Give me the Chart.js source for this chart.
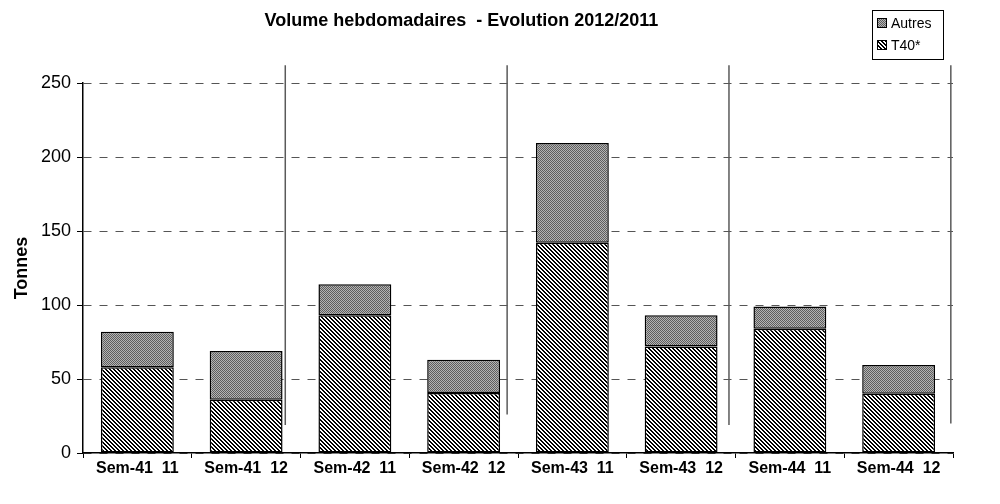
<!DOCTYPE html>
<html>
<head>
<meta charset="utf-8">
<script src="https://cdn.jsdelivr.net/npm/chart.js@4/dist/chart.umd.min.js"></script>
<style>
  html, body { margin: 0; padding: 0; background: #fff; }
  #wrap { width: 1000px; height: 504px; position: relative; }
</style>
</head>
<body>
<div id="wrap"><canvas id="graficoVolume"></canvas></div>
<script>
// Données du graphique
const semaines = ['Sem-41  11', 'Sem-41  12', 'Sem-42  11', 'Sem-42  12', 'Sem-43  11', 'Sem-43  12', 'Sem-44  11', 'Sem-44  12'];
const t40 = [58, 36, 93, 40.5, 142, 72, 84, 40];
const autres = [24, 33, 21, 22.5, 67.5, 21, 15, 19.5];
const yTicks = [0, 50, 100, 150, 200, 250];

// séparateurs verticaux entre semaines (position en index de catégorie, haut/bas en tonnes)
const sepPos = [1.36, 3.4, 5.44, 7.48];
const sepTop = [262, 262, 262, 262];
const sepBas = [19, 26, 19, 20];

// motifs de remplissage
function motifHachure() {
  const c = document.createElement('canvas');
  c.width = 4; c.height = 4;
  const ctx = c.getContext('2d');
  ctx.fillStyle = '#fff';
  ctx.fillRect(0, 0, 4, 4);
  ctx.fillStyle = '#000';
  for (let y = 0; y < 4; y++) {
    for (let x = 0; x < 4; x++) {
      const d = ((x - y) % 4 + 4) % 4;
      if (d === 0 || d === 1) ctx.fillRect(x, y, 1, 1);
    }
  }
  return ctx.createPattern(c, 'repeat');
}

function motifDamier() {
  const c = document.createElement('canvas');
  c.width = 2; c.height = 2;
  const ctx = c.getContext('2d');
  ctx.fillStyle = '#b4b4b4';
  ctx.fillRect(0, 0, 2, 2);
  ctx.fillStyle = '#5e5e5e';
  ctx.fillRect(0, 0, 1, 1);
  ctx.fillRect(1, 1, 1, 1);
  return ctx.createPattern(c, 'repeat');
}

const hachure = motifHachure();
const damier = motifDamier();
const police = '"Liberation Sans", Arial, sans-serif';

const pluginDessin = {
  id: 'dessin',
  afterDatasetsDraw(chart) {
    const ctx = chart.ctx;
    const x = chart.scales.x, y = chart.scales.y;
    ctx.save();
    ctx.strokeStyle = '#5a5a5a';
    ctx.lineWidth = 1.5;
    sepPos.forEach((p, i) => {
      const px = x.getPixelForValue(p);
      ctx.beginPath();
      ctx.moveTo(px, y.getPixelForValue(sepTop[i]));
      ctx.lineTo(px, y.getPixelForValue(sepBas[i]));
      ctx.stroke();
    });
    ctx.restore();
  },
  afterDraw(chart) {
    const ctx = chart.ctx;
    const area = chart.chartArea;
    ctx.save();
    // titre
    ctx.fillStyle = '#000';
    ctx.font = 'bold 18px ' + police;
    ctx.textAlign = 'center';
    ctx.textBaseline = 'middle';
    ctx.fillText('Volume hebdomadaires  - Evolution 2012/2011', area.left + area.width * 0.435, 21);

    // légende
    ctx.strokeStyle = '#000';
    ctx.lineWidth = 1;
    ctx.strokeRect(872.5, 10.5, 71, 49);
    const items = [chart.data.datasets[1], chart.data.datasets[0]];
    ctx.font = '14px ' + police;
    ctx.textAlign = 'left';
    items.forEach((ds, i) => {
      const cy = 23 + i * 22;
      ctx.fillStyle = ds.backgroundColor;
      ctx.fillRect(877, cy - 5, 10, 10);
      ctx.strokeRect(877.5, cy - 4.5, 9, 9);
      ctx.fillStyle = '#000';
      ctx.fillText(ds.label, 891, cy + 1);
    });
    ctx.restore();
  }
};

const dataVolume = {
  labels: semaines,
  datasets: [{
    label: 'T40*',
    data: t40,
    backgroundColor: hachure,
    borderColor: '#000',
    borderWidth: 1.5,
    borderSkipped: false
  }, {
    label: 'Autres',
    data: autres,
    backgroundColor: damier,
    borderColor: '#000',
    borderWidth: 1.5,
    borderSkipped: false
  }]
};

const configVolume = {
  type: 'bar',
  data: dataVolume,
  options: {
    responsive: true,
    maintainAspectRatio: false,
    animation: false,
    categoryPercentage: 1,
    barPercentage: 0.67,
    layout: { padding: { top: 83, right: 47, bottom: 0, left: 0 } },
    plugins: {
      legend: { display: false },
      title: { display: false },
      tooltip: { enabled: false }
    },
    scales: {
      x: {
        stacked: true,
        afterFit: (axis) => { axis.height = 51; },
        grid: {
          offset: true,
          drawOnChartArea: false,
          drawTicks: true,
          tickLength: 5,
          tickColor: '#000',
          tickWidth: 1
        },
        border: { display: true, color: '#000', width: 1.5 },
        ticks: {
          color: '#000',
          font: { family: police, size: 16, weight: 'bold' },
          padding: 1,
          maxRotation: 0,
          autoSkip: false
        }
      },
      y: {
        stacked: true,
        min: 0,
        max: 250,
        afterBuildTicks: (axis) => { axis.ticks = yTicks.map(v => ({ value: v })); },
        afterFit: (axis) => { axis.width = 83; },
        grid: {
          color: '#555',
          lineWidth: 1,
          tickLength: 6,
          tickColor: '#000',
          tickWidth: 1
        },
        border: { display: true, color: '#000', width: 1.5, dash: [8, 8] },
        ticks: {
          color: '#000',
          font: { family: police, size: 18 },
          padding: 6
        },
        title: {
          display: true,
          text: 'Tonnes',
          color: '#000',
          font: { family: police, size: 18, weight: 'bold' },
          padding: { top: 11, bottom: 4 }
        }
      }
    }
  },
  plugins: [pluginDessin]
};

const myChart1 = new Chart(
  document.getElementById('graficoVolume'),
  configVolume
);
</script>
</body>
</html>
